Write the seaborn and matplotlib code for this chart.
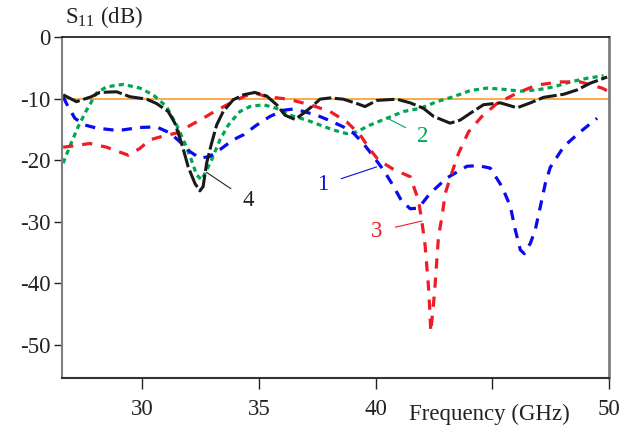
import matplotlib
matplotlib.use('Agg')
from matplotlib import pyplot as plt
import seaborn as sns

# curve 1 (blue)
freq_1 = [26.6, 26.74, 27.1, 27.53, 28.03, 28.96, 29.89, 30.6, 31.18, 31.6, 32.03, 32.46, 32.89, 33.32,
          33.89, 34.32, 34.9, 35.47, 36.04, 36.47, 36.9, 37.47, 38.04, 38.61, 39.04, 39.47, 39.9, 40.33,
          40.69, 41.12, 41.48, 41.83, 42.33, 43.05, 43.91, 44.4, 44.91, 45.41, 45.77, 45.98, 46.2, 46.37,
          46.63, 46.84, 47.06, 47.27, 47.48, 48.06, 48.77, 49.49]
s11_1 = [-9.7, -10.8, -13.2, -14.3, -14.8, -15.2, -14.7, -14.6, -15.6, -17.0, -18.6, -19.7, -19.4, -18.3,
         -16.7, -15.9, -14.3, -12.9, -11.9, -11.7, -12.1, -12.7, -13.6, -14.6, -15.6, -17.3, -19.4, -21.6,
         -23.8, -26.7, -27.9, -27.8, -25.4, -22.9, -21.0, -20.9, -21.3, -24.3, -27.5, -31.3, -34.6, -35.2,
         -33.5, -31.3, -27.5, -23.8, -21.2, -17.8, -15.4, -13.2]

# curve 2 (green)
freq_2 = [26.6, 26.88, 27.24, 27.6, 28.03, 28.46, 29.17, 29.89, 30.46, 31.03, 31.46, 31.82, 32.1, 32.32,
          32.54, 32.75, 32.96, 33.32, 33.68, 34.04, 34.18, 34.61, 35.18, 35.75, 36.33, 37.04, 37.61, 38.18,
          38.76, 39.19, 39.76, 40.48, 41.19, 41.9, 42.62, 43.33, 44.05, 44.77, 45.48, 46.2, 46.91, 47.63,
          48.34, 49.06, 49.77]
s11_2 = [-20.5, -17.8, -14.6, -11.9, -9.1, -8.1, -7.7, -8.3, -9.4, -11.3, -14.3, -17.3, -20.0, -22.4,
         -23.2, -21.6, -20.0, -16.7, -14.3, -12.7, -12.1, -11.3, -11.0, -11.6, -12.7, -13.5, -14.3, -15.1,
         -15.7, -15.4, -14.3, -13.2, -12.1, -11.6, -10.5, -9.7, -8.7, -8.3, -8.5, -8.8, -8.6, -8.1,
         -7.3, -6.7, -6.3]

# curve 3 (red)
freq_3 = [26.6, 27.03, 27.74, 28.46, 28.96, 29.39, 29.89, 30.32, 30.89, 31.46, 32.03, 32.6, 33.18, 33.89,
          34.39, 34.82, 35.33, 36.25, 37.18, 38.04, 38.76, 39.33, 39.76, 40.12, 40.76, 41.48, 41.83, 41.98,
          42.12, 42.19, 42.26, 42.31, 42.36, 42.48, 42.55, 42.62, 42.69, 42.84, 42.98, 43.26, 43.55, 43.98,
          44.55, 45.2, 46.06, 46.91, 47.91, 48.77, 49.7, 49.91]
s11_3 = [-17.9, -17.7, -17.3, -17.9, -18.6, -19.2, -18.1, -16.7, -16.1, -15.6, -14.4, -13.2, -11.9, -10.5,
         -9.6, -9.1, -9.7, -10.1, -11.0, -12.1, -13.8, -15.9, -18.3, -20.0, -21.5, -22.7, -26.5, -30.0,
         -34.0, -37.3, -40.5, -43.8, -47.9, -43.2, -40.0, -36.2, -32.4, -29.2, -25.4, -22.1, -18.9, -15.4,
         -12.9, -10.8, -9.1, -7.8, -7.3, -7.3, -8.3, -8.7]

# curve 4 (black)
freq_4 = [26.6, 27.17, 27.81, 28.17, 28.89, 29.46, 30.18, 30.6, 31.1, 31.39, 31.68, 31.96, 32.25, 32.46,
          32.6, 32.75, 32.96, 33.18, 33.46, 33.89, 34.32, 34.82, 35.33, 35.75, 36.11, 36.54, 36.9, 37.26,
          37.61, 38.04, 38.61, 39.26, 39.54, 40.05, 40.48, 40.9, 41.48, 42.05, 42.48, 43.19, 43.62, 44.05,
          44.62, 45.34, 46.06, 46.63, 47.2, 48.06, 48.63, 49.2, 49.92]
s11_4 = [-9.4, -10.5, -9.7, -9.0, -8.9, -9.7, -10.1, -10.8, -12.1, -14.0, -17.3, -21.1, -23.8, -25.0,
         -24.3, -20.5, -17.3, -14.3, -12.1, -10.2, -9.4, -9.0, -9.6, -11.0, -12.7, -13.4, -12.4, -11.3,
         -10.1, -9.9, -10.1, -10.9, -11.3, -10.3, -10.2, -10.1, -10.7, -11.6, -12.9, -14.0, -13.5, -12.4,
         -11.0, -10.7, -11.5, -10.7, -9.8, -9.3, -8.6, -7.5, -6.5]

threshold = -10
x_ticks = [30, 35, 40, 45, 50]
x_tick_labels = ['30', '35', '40', '', '50']
y_ticks = [0, -10, -20, -30, -40, -50]

# curve labels: text, text position, point on curve
label_names = ['1', '2', '3', '4']
label_text_xy = [(37.74, -24.0), (42.03, -16.2), (40.05, -31.6), (34.52, -26.5)]
label_curve_xy = [(40.04, -21.1), (40.45, -13.1), (41.98, -29.9), (32.75, -22.0)]


sns.set_style('white')
plt.rcParams['font.family'] = ['Liberation Serif', 'DejaVu Serif']
plt.rcParams['font.size'] = 16.5

fig = plt.figure(figsize=(6.34, 4.30), dpi=100)
ax = fig.add_axes([62 / 634, 1 - 378 / 430, 547 / 634, 341 / 430])

ax.axhline(threshold, color='#f7941d', lw=1.1, zorder=1)

blue, green, red, black = '#0a0aee', '#00a651', '#ee1d25', '#1a1a1a'
sns.lineplot(x=freq_2, y=s11_2, ax=ax, color=green, lw=2.3, linestyle=(0, (1.6, 1.3)), estimator=None, sort=False)
sns.lineplot(x=freq_1, y=s11_1, ax=ax, color=blue, lw=2.3, linestyle=(0, (3.2, 2.6)), estimator=None, sort=False)
sns.lineplot(x=freq_3, y=s11_3, ax=ax, color=red, lw=2.3, linestyle=(0, (3.2, 2.8)), estimator=None, sort=False)
sns.lineplot(x=freq_4, y=s11_4, ax=ax, color=black, lw=2.2, linestyle=(0, (6, 1.2)), estimator=None, sort=False)

ax.set_xlim(26.55, 50)
ax.set_ylim(-55.4, 0)
ax.set_xticks(x_ticks)
ax.set_xticklabels(x_tick_labels)
ax.set_yticks(y_ticks)
ax.set_yticklabels([str(v) for v in y_ticks])
ax.tick_params(axis='x', direction='out', length=8, width=1, colors='#222222', pad=7)
ax.tick_params(axis='y', direction='out', length=6, width=1, colors='#222222', pad=2)
ax.tick_params(bottom=True, left=True)

ax.spines['top'].set_color('#111111')
ax.spines['top'].set_linewidth(1.2)
ax.spines['right'].set_color('#7f7f7f')
ax.spines['right'].set_linewidth(2)
ax.spines['left'].set_color('#7f7f7f')
ax.spines['left'].set_linewidth(1.5)
ax.spines['bottom'].set_color('#333333')
ax.spines['bottom'].set_linewidth(1.5)

# axis titles
ax.text(0.005, 1.06, r'S$_{\mathregular{11}}$ (dB)', transform=ax.transAxes,
        ha='left', va='center', color='#222222')
ax.text(0.782, -0.108, 'Frequency (GHz)', transform=ax.transAxes,
        ha='center', va='center', color='#222222')

for name, txy, cxy, col in zip(label_names, label_text_xy, label_curve_xy, [blue, green, red, '#222222']):
    ax.annotate(name, xy=cxy, xytext=txy, color=col, ha='center', va='center',
                arrowprops=dict(arrowstyle='-', color=col, lw=0.8, shrinkA=7, shrinkB=0))

fig.savefig('out.png', dpi=100)
